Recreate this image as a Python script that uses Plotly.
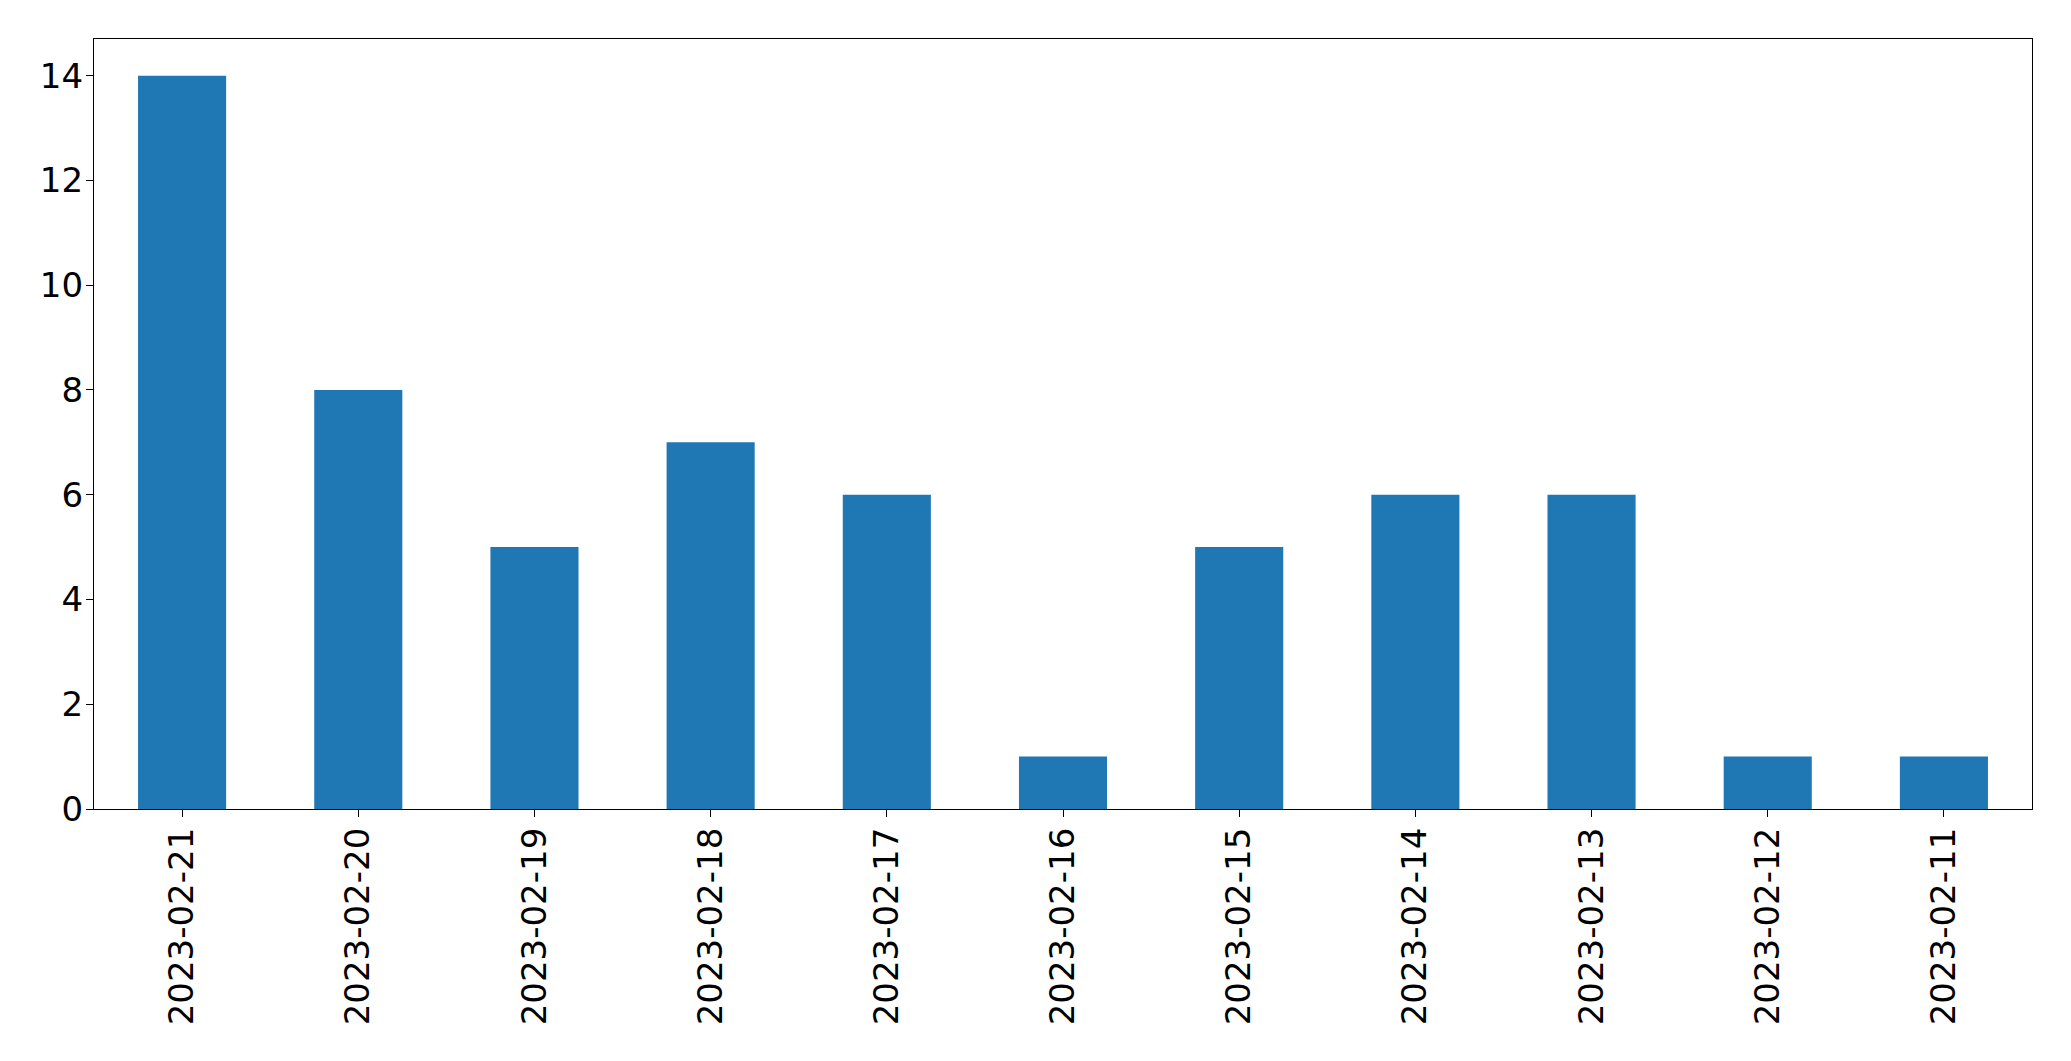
import plotly.graph_objects as go

dates = ["2023-02-21", "2023-02-20", "2023-02-19", "2023-02-18", "2023-02-17",
         "2023-02-16", "2023-02-15", "2023-02-14", "2023-02-13", "2023-02-12", "2023-02-11"]
counts = [14, 8, 5, 7, 6, 1, 5, 6, 6, 1, 1]
y_ticks = [0, 2, 4, 6, 8, 10, 12, 14]

fig = go.Figure(go.Bar(x=dates, y=counts, marker=dict(color="#1f77b4", line=dict(width=0)), width=0.5))

fig.update_layout(
    width=2071, height=1061,
    margin=dict(l=86, r=47, t=31, b=260),
    plot_bgcolor="white", paper_bgcolor="white",
    font=dict(family="DejaVu Sans", size=34, color="black"),
    showlegend=False,
)
fig.update_xaxes(type="category", range=[-0.5, 10.5], tickangle=-90,
                 showline=True, linecolor="black", linewidth=1.3, mirror=True,
                 ticks="outside", ticklen=7, tickcolor="black", tickwidth=1.3,
                 ticklabelstandoff=-3,
                 showgrid=False, zeroline=False)
fig.update_yaxes(range=[0, 14.7], tickvals=y_ticks,
                 showline=True, linecolor="black", linewidth=1.3, mirror=True,
                 ticks="outside", ticklen=7, tickcolor="black", tickwidth=1.3,
                 ticklabelstandoff=-4,
                 showgrid=False, zeroline=False)

fig.write_html("out.html")
